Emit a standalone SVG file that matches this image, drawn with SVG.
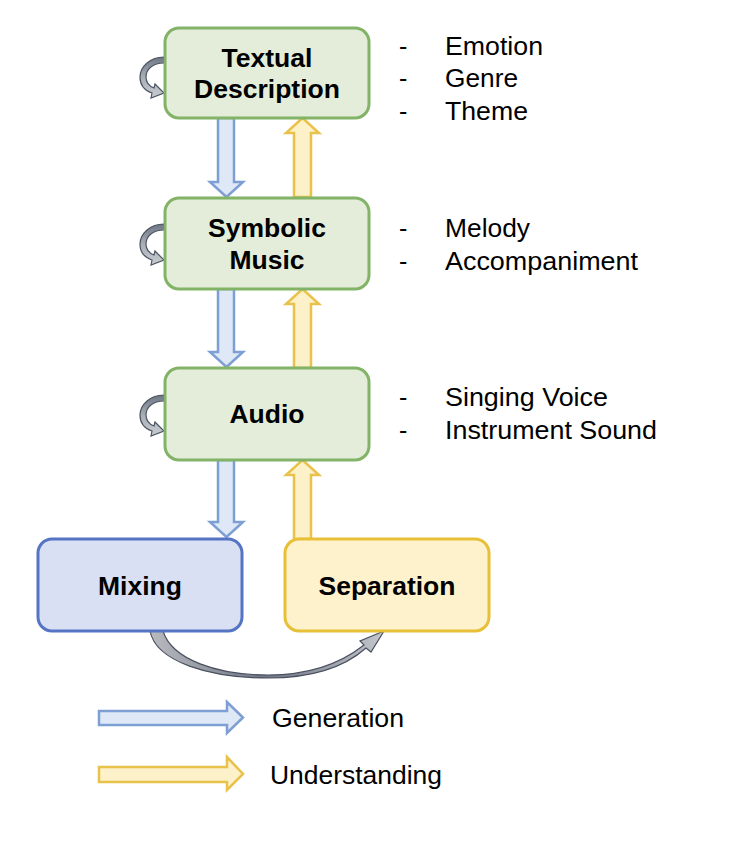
<svg xmlns="http://www.w3.org/2000/svg" width="730" height="845" viewBox="0 0 730 845">
<style>
.box{stroke-width:3}
.green{fill:#e3edd9;stroke:#82b366}
.lbl{font-family:"Liberation Sans",Arial,sans-serif;font-weight:bold;font-size:26.5px;fill:#000;text-anchor:middle}
.txt{font-family:"Liberation Sans",Arial,sans-serif;font-size:25px;fill:#000}
.gen{fill:#dee8f7;stroke:#7e9fd4;stroke-width:2.5;stroke-linejoin:miter}
.und{fill:#fcf1c8;stroke:#e8c24a;stroke-width:2.5;stroke-linejoin:miter}
.loop{fill:url(#lg);stroke:#4d5563;stroke-width:1.2}
</style>
<defs>
<linearGradient id="lg" x1="0" y1="0" x2="0" y2="1">
<stop offset="0" stop-color="#6e7684"/>
<stop offset="0.5" stop-color="#a9afb8"/>
<stop offset="1" stop-color="#c9ccd2"/>
</linearGradient>
<linearGradient id="bg" x1="0" y1="0" x2="1" y2="0">
<stop offset="0" stop-color="#b8babf"/>
<stop offset="0.5" stop-color="#6f7684"/>
<stop offset="1" stop-color="#c4c7cc"/>
</linearGradient>
<path id="lp" d="M164,0 C150,0 140,10 140,20 C140,29 146,34 152,36 L151,41 L164,36 L155,27 L154,31 C149,29 146,25 146,20 C146,12 153,6 164,6 Z"/>
</defs>
<g id="connectors">
<polygon class="gen" points="218,118 234,118 234,182 243,182 226.5,197 210,182 218,182"/>
<polygon class="gen" points="218,289 234,289 234,352 243,352 226.5,367 210,352 218,352"/>
<polygon class="gen" points="218,460 234,460 234,522 243,522 226.5,537 210,522 218,522"/>
<polygon class="und" points="294,197 311,197 311,133 319,133 302.5,118 286,133 294,133"/>
<polygon class="und" points="294,368 311,368 311,304 319,304 302.5,289 286,304 294,304"/>
<polygon class="und" points="294,539 311,539 311,475 319,475 302.5,460 286,475 294,475"/>
<use href="#lp" class="loop" transform="translate(0,57)"/>
<use href="#lp" class="loop" transform="translate(0,224)"/>
<use href="#lp" class="loop" transform="translate(0,395)"/>
<path d="M150,631 C156,662 210,678 268,678 C318,678 348,664 366,648 L371,652 L384,631 L360,641 L364,645 C345,660 315,675 268,675 C218,675 172,660 163,631 Z" fill="url(#bg)" stroke="#4a5060" stroke-width="1.2"/>
</g>
<g id="textual">
<rect class="box green" x="165" y="28" width="204" height="90" rx="14"/>
<text class="lbl" x="267" y="67">Textual</text>
<text class="lbl" x="267" y="98">Description</text>
</g>
<g id="symbolic">
<rect class="box green" x="165" y="198" width="204" height="91" rx="14"/>
<text class="lbl" x="267" y="237">Symbolic</text>
<text class="lbl" x="267" y="269">Music</text>
</g>
<g id="audio">
<rect class="box green" x="165" y="368" width="204" height="92" rx="14"/>
<text class="lbl" x="267" y="423">Audio</text>
</g>
<g id="mixing">
<rect class="box" x="38" y="539" width="204" height="92" rx="14" fill="#dae0f3" stroke="#5574c4"/>
<text class="lbl" x="140" y="595">Mixing</text>
</g>
<g id="separation">
<rect class="box" x="285" y="539" width="204" height="92" rx="14" fill="#fdf2cc" stroke="#e8c038"/>
<text class="lbl" x="387" y="595">Separation</text>
</g>
<g id="lists">
<text class="txt" x="399" y="55">-</text>
<text class="txt" x="445" y="55" textLength="98" lengthAdjust="spacingAndGlyphs">Emotion</text>
<text class="txt" x="399" y="87">-</text>
<text class="txt" x="445" y="87" textLength="73" lengthAdjust="spacingAndGlyphs">Genre</text>
<text class="txt" x="399" y="120">-</text>
<text class="txt" x="445" y="120" textLength="83" lengthAdjust="spacingAndGlyphs">Theme</text>
<text class="txt" x="399" y="237">-</text>
<text class="txt" x="445" y="237" textLength="85" lengthAdjust="spacingAndGlyphs">Melody</text>
<text class="txt" x="399" y="270">-</text>
<text class="txt" x="445" y="270" textLength="193" lengthAdjust="spacingAndGlyphs">Accompaniment</text>
<text class="txt" x="399" y="406">-</text>
<text class="txt" x="445" y="406" textLength="163" lengthAdjust="spacingAndGlyphs">Singing Voice</text>
<text class="txt" x="399" y="439">-</text>
<text class="txt" x="445" y="439" textLength="212" lengthAdjust="spacingAndGlyphs">Instrument Sound</text>
</g>
<g id="legend">
<polygon class="gen" points="99,711 227,711 227,702 243,717.5 227,733 227,725 99,725"/>
<polygon class="und" points="99,767 227,767 227,757 243,774 227,790 227,782 99,782"/>
<text class="txt" x="272" y="727" textLength="132" lengthAdjust="spacingAndGlyphs">Generation</text>
<text class="txt" x="270" y="784" textLength="172" lengthAdjust="spacingAndGlyphs">Understanding</text>
</g>
</svg>
